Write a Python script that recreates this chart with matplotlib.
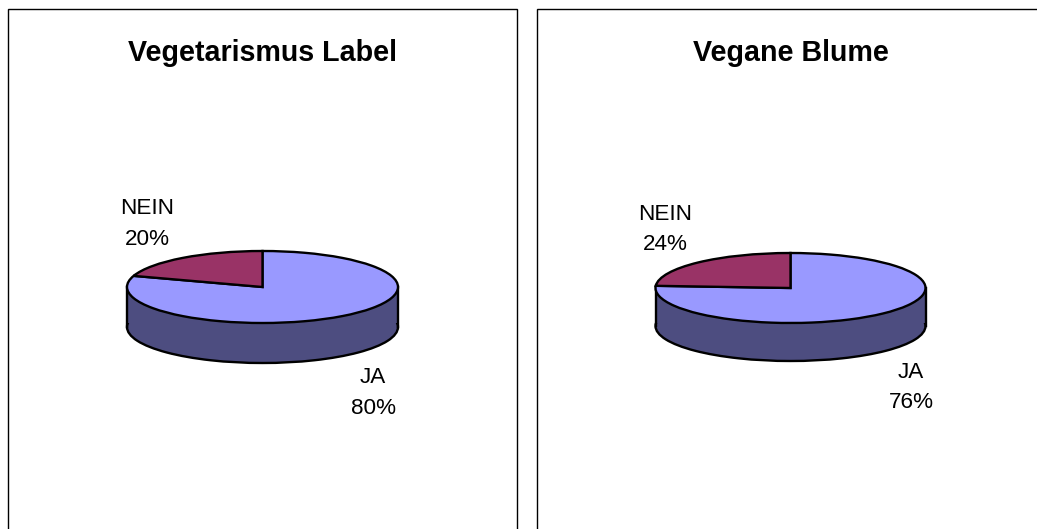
import matplotlib.pyplot as plt
from matplotlib.patches import Rectangle

plt.rcParams["font.family"] = ["Liberation Sans", "DejaVu Sans"]

W, H = 1037, 529

titles = ["Vegetarismus Label", "Vegane Blume"]
labels = ["JA", "NEIN"]
shares_left = [80, 20]
shares_right = [76, 24]

TOP = "#9999FF"
SLICE = "#993366"
WALL = "#4D4D80"


def px_axes(fig, x0, y0, x1, y1):
    # axes placed by pixel box, y measured from the top of the image
    return fig.add_axes([x0 / W, 1 - y1 / H, (x1 - x0) / W, (y1 - y0) / H])


def pie3d(fig, values, cx, cy, rx, ry, depth):
    ax = px_axes(fig, cx - rx, cy - ry, cx + rx, cy + ry)
    d = depth / ry
    line = dict(edgecolor="black", linewidth=1.7)

    # lower rim, side wall, then the top face
    w, _ = ax.pie([1], colors=[WALL], radius=1, center=(0, -d), wedgeprops=line)
    ax.add_patch(Rectangle((-1, -d), 2, d, facecolor=WALL, edgecolor="none", zorder=2))
    ax.plot([-1, -1], [-d, 0], color="black", lw=1.7, zorder=3)
    ax.plot([1, 1], [-d, 0], color="black", lw=1.7, zorder=3)
    top, _ = ax.pie(values, colors=[TOP, SLICE], startangle=90, counterclock=False,
                    radius=1, wedgeprops=line)
    for p in top:
        p.set_zorder(4)
    for p in list(w) + list(top):
        p.set_clip_on(False)
    ax.set_aspect("auto")
    ax.set_xlim(-1, 1)
    ax.set_ylim(-1, 1)
    ax.axis("off")
    for art in ax.lines:
        art.set_clip_on(False)


def put(fig, x, y, s, va="baseline", **kw):
    fig.text(x / W, 1 - y / H, s, ha="center", va=va, color="black", **kw)


def pair(fig, x, y1, y2, name, pct):
    # name and percentage are placed line by line, the gaps differ per label
    put(fig, x, y1, name, fontsize=16.2)
    put(fig, x, y2, f"{pct}%", fontsize=16.2)


fig = plt.figure(figsize=(W / 100, H / 100), dpi=100, facecolor="white")

# chart frames run off the bottom of the image
for x0, x1 in [(8, 517), (537, 1046)]:
    fig.add_artist(Rectangle((x0 / W, -0.05), (x1 - x0) / W, 1.05 - 9 / H,
                             transform=fig.transFigure, facecolor="white",
                             edgecolor="black", linewidth=1.0, zorder=-1))

pie3d(fig, shares_left, 262.5, 287, 135.5, 36, 40)
pie3d(fig, shares_right, 790.5, 288, 135, 35, 38)

put(fig, 262, 53, titles[0], va="center", fontsize=20.6, fontweight="bold")
put(fig, 791, 53, titles[1], va="center", fontsize=20.6, fontweight="bold")

pair(fig, 147, 214, 245, labels[1], shares_left[1])
pair(fig, 373, 383, 414, labels[0], shares_left[0])
pair(fig, 665, 220, 250, labels[1], shares_right[1])
pair(fig, 911, 378, 408, labels[0], shares_right[0])

plt.savefig("out.png", dpi=100)
